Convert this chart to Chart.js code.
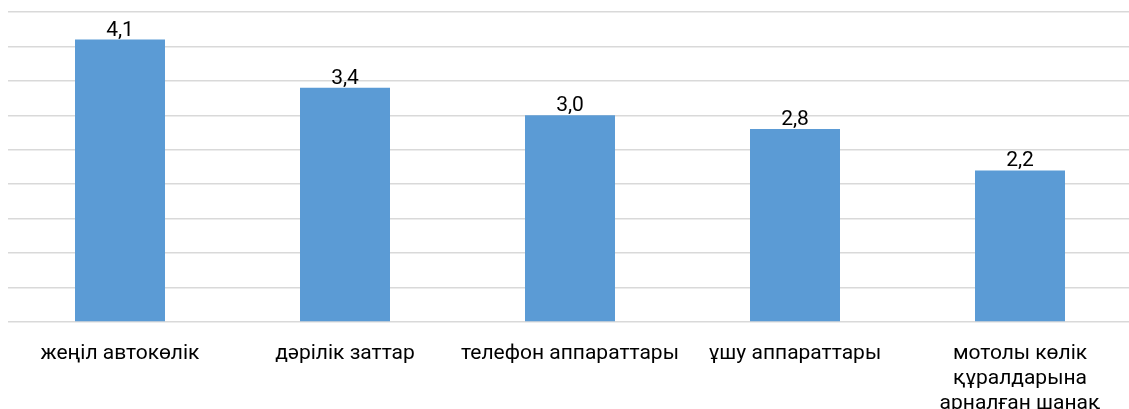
<!DOCTYPE html>
<html>
<head>
<meta charset="utf-8">
<script src="https://cdn.jsdelivr.net/npm/chart.js@4.4.1/dist/chart.umd.min.js"></script>
<style>
  html, body { margin: 0; padding: 0; background: #fff; overflow: hidden; }
  #wrap { width: 1133px; height: 409px; }
</style>
</head>
<body>
<div id="wrap"><canvas id="chart"></canvas></div>
<script>
var categories = [
    "жеңіл автокөлік",
    "дәрілік заттар",
    "телефон аппараттары",
    "ұшу аппараттары",
    ["мотолы көлік", "құралдарына", "арналған шанақ"]
];
var values = [4.1, 3.4, 3.0, 2.8, 2.2];

// подписи значений над столбцами
var valueLabels = {
    id: "valueLabels",
    afterDatasetsDraw: function (chart) {
        var ctx = chart.ctx;
        var meta = chart.getDatasetMeta(0);
        ctx.save();
        ctx.font = "21px Roboto";
        ctx.fillStyle = "#000";
        ctx.textAlign = "center";
        ctx.textBaseline = "alphabetic";
        meta.data.forEach(function (bar, i) {
            var txt = values[i].toFixed(1).replace(".", ",");
            ctx.fillText(txt, bar.x, bar.y - 4);
        });
        ctx.restore();
    }
};

new Chart(document.getElementById("chart"), {
    type: "bar",
    data: {
        labels: categories,
        datasets: [{
            data: values,
            backgroundColor: "#5B9BD5",
            barPercentage: 0.4,
            categoryPercentage: 1.0
        }]
    },
    options: {
        responsive: true,
        maintainAspectRatio: false,
        animation: false,
        layout: { padding: { left: 7.5, right: 0.5, top: 12, bottom: 0 } },
        plugins: {
            legend: { display: false },
            tooltip: { enabled: false }
        },
        scales: {
            x: {
                grid: { display: false },
                border: { display: false },
                ticks: {
                    color: "#000",
                    font: { family: "Roboto", size: 21, lineHeight: 1.2 },
                    padding: 11,
                    maxRotation: 0,
                    autoSkip: false
                },
                afterFit: function (scale) { scale.height = 87; }
            },
            y: {
                min: 0,
                max: 4.5,
                border: { display: false },
                grid: { color: "#d9d9d9", lineWidth: 1.5, drawTicks: false },
                ticks: { display: false, stepSize: 0.5 },
                afterFit: function (scale) { scale.width = 0; }
            }
        }
    },
    plugins: [valueLabels]
});
</script>
</body>
</html>
